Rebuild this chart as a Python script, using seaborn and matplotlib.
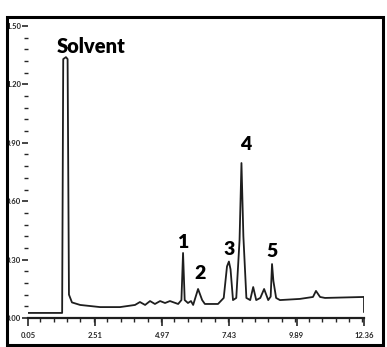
import pandas as pd
import seaborn as sns
import matplotlib.pyplot as plt
from matplotlib.patches import Rectangle
from matplotlib.ticker import MultipleLocator

# retention time (min) and detector response
time = [0.05, 1.30, 1.34, 1.44, 1.50, 1.55, 1.66, 1.96, 2.69, 3.42,
        3.97, 4.15, 4.34, 4.52, 4.70, 4.89, 5.07, 5.25, 5.55, 5.67,
        5.73, 5.79, 5.91, 6.02, 6.10, 6.28, 6.43, 6.53, 7.01, 7.22,
        7.34, 7.41, 7.47, 7.56, 7.68, 7.80, 7.87, 7.94, 8.05, 8.19,
        8.30, 8.41, 8.56, 8.70, 8.85, 8.94, 8.99, 9.04, 9.14, 9.28,
        10.01, 10.49, 10.60, 10.75, 10.93, 12.36, 12.36]
response = [0.026, 0.026, 1.33, 1.34, 1.33, 0.12, 0.08, 0.067, 0.056, 0.056,
            0.067, 0.082, 0.067, 0.087, 0.072, 0.087, 0.077, 0.087, 0.072, 0.092,
            0.334, 0.092, 0.077, 0.087, 0.067, 0.149, 0.092, 0.072, 0.072, 0.103,
            0.265, 0.290, 0.250, 0.092, 0.103, 0.40, 0.796, 0.42, 0.103, 0.092,
            0.159, 0.092, 0.103, 0.149, 0.092, 0.110, 0.277, 0.19, 0.103, 0.092,
            0.098, 0.108, 0.139, 0.108, 0.103, 0.108, 0.03]

peak_labels = ["Solvent", "1", "2", "3", "4", "5"]
peak_label_x = [2.36, 5.73, 6.35, 7.41, 8.03, 8.99]
peak_label_y = [1.36, 0.36, 0.20, 0.325, 0.865, 0.315]

x_ticks = [0.05, 2.51, 4.97, 7.43, 9.89, 12.36]
x_ticklabels = ["0.05", "2.51", "4.97", "7.43", "9.89", "12.36"]
y_ticks = [0.0, 0.3, 0.6, 0.9, 1.2, 1.5]
y_ticklabels = ["0.00", "0.30", "0.60", "0.90", "1.20", "1.50"]

df = pd.DataFrame({"time": time, "response": response})

sns.set_style("white")
plt.rcParams['font.family'] = ['Lato', 'DejaVu Sans']

fig = plt.figure(figsize=(3.87, 3.47), dpi=100)
ax = fig.add_axes([0.0724, 0.0836, 0.8682, 0.8415])

sns.lineplot(data=df, x="time", y="response", ax=ax, color="#1e1e1e",
             linewidth=1.3, sort=False, estimator=None)

ax.set_xlim(0.05, 12.36)
ax.set_ylim(0, 1.5)
ax.set_xlabel("")
ax.set_ylabel("")

ax.set_xticks(x_ticks)
ax.set_xticklabels(x_ticklabels, fontsize=5.5, fontweight="bold")
ax.set_yticks(y_ticks)
ax.set_yticklabels(y_ticklabels, fontsize=5.5, fontweight="bold")
ax.xaxis.set_minor_locator(MultipleLocator(0.492))
ax.yaxis.set_minor_locator(MultipleLocator(0.06))
ax.tick_params(axis="x", which="major", direction="out", length=6, width=1.2, pad=4, bottom=True)
ax.tick_params(axis="x", which="minor", direction="out", length=3, width=1.0, bottom=True)
ax.tick_params(axis="y", which="major", direction="out", length=4, width=1.2, pad=1, left=True)
ax.tick_params(axis="y", which="minor", direction="out", length=3, width=1.0, left=True)

for side in ["top", "right", "left"]:
    ax.spines[side].set_visible(False)
ax.spines["bottom"].set_linewidth(1.6)
ax.spines["bottom"].set_color("#1e1e1e")

for i, lab in enumerate(peak_labels):
    ax.text(peak_label_x[i], peak_label_y[i], lab, ha="center", va="baseline",
            fontsize=14.5 if i == 0 else 14, fontweight="heavy", color="black")

# outer frame round the whole picture
fig.patches.append(Rectangle((7 / 387, 2 / 347), 376 / 387, 328 / 347,
                             transform=fig.transFigure, fill=False,
                             edgecolor="black", linewidth=2.2))

fig.savefig("out.png", dpi=100)
